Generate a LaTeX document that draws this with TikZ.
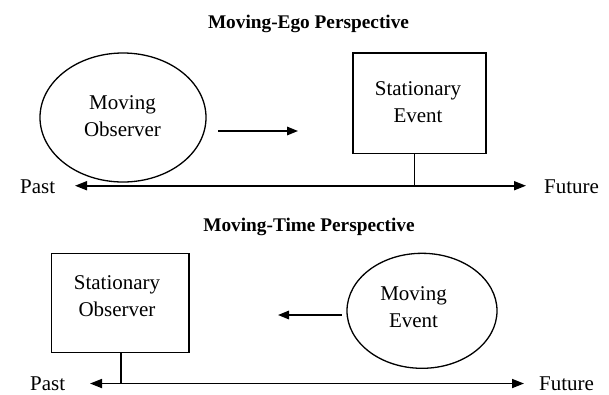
\documentclass[tikz,border=0pt]{standalone}
\usepackage{fontspec}
\setmainfont{Liberation Serif}
\usetikzlibrary{arrows.meta,shapes.geometric}
\tikzset{
  shapeline/.style={draw=black, line width=1.3pt},
  ellipsebox/.style={shapeline, ellipse, inner sep=0pt},
  rectbox/.style={shapeline, rectangle, inner sep=0pt},
  lbl/.style={align=center, inner sep=0pt, font={\fontsize{21}{27}\selectfont}},
  endlbl/.style={inner sep=0pt, font={\fontsize{21}{27}\selectfont}},
  ttl/.style={inner sep=0pt, font={\fontsize{19.3}{23}\selectfont\bfseries}},
  axisline/.style={line width=1.7pt, {Triangle[length=12pt,width=9pt]}-{Triangle[length=12pt,width=9pt]}},
  movearrow/.style={line width=1.6pt, -{Triangle[length=11pt,width=8.5pt]}},
  tickline/.style={line width=1.3pt}
}
\begin{document}
\begin{tikzpicture}[x=1pt,y=1pt]
\useasboundingbox[fill=white] (0,0) rectangle (609,-394);

% ---------- Moving-Ego ----------
\node[ttl, anchor=base] (t1) at (308.5,-28) {Moving-Ego Perspective};
\node[ellipsebox, minimum width=166pt, minimum height=129pt] (mo) at (123,-117.5) {};
\node[lbl] (molbl) at (122.5,-116.4) {Moving\\Observer};
\node[rectbox, minimum width=133pt, minimum height=100.5pt] (se) at (419.5,-103.2) {};
\node[lbl] (selbl) at (418,-101.9) {Stationary\\Event};

\coordinate (a1s) at (218,-131);
\coordinate (a1e) at (298,-131);
\draw[movearrow] (a1s) -- (a1e);

\coordinate (ax1l) at (75,-185.7);
\coordinate (ax1r) at (526,-185.7);
\draw[axisline] (ax1l) -- (ax1r);
\coordinate (tk1) at (414.5,-185.7);
\draw[tickline] (tk1) -- (tk1 |- se.south);

\node[endlbl, anchor=base west] (past1) at (20,-193) {Past};
\node[endlbl, anchor=base west] (fut1) at (544,-193) {Future};

% ---------- Moving-Time ----------
\node[ttl, anchor=base] (t2) at (309,-231.7) {Moving-Time Perspective};
\node[rectbox, minimum width=137.3pt, minimum height=99.4pt] (so) at (120.3,-303) {};
\node[lbl] (solbl) at (117,-296.4) {Stationary\\Observer};
\node[ellipsebox, minimum width=150pt, minimum height=115pt] (me) at (422,-310.8) {};
\node[lbl] (melbl) at (413.5,-307.4) {Moving\\Event};

\coordinate (a2s) at (341.7,-315);
\coordinate (a2e) at (278,-315);
\draw[movearrow] (a2s) -- (a2e);

\coordinate (ax2l) at (90,-383.5);
\coordinate (ax2r) at (524,-383.5);
\draw[axisline] (ax2l) -- (ax2r);
\coordinate (tk2) at (121,-383.5);
\draw[tickline] (tk2) -- (tk2 |- so.south);

\node[endlbl, anchor=base west] (past2) at (30,-390) {Past};
\node[endlbl, anchor=base west] (fut2) at (539,-390) {Future};
\end{tikzpicture}
\end{document}
